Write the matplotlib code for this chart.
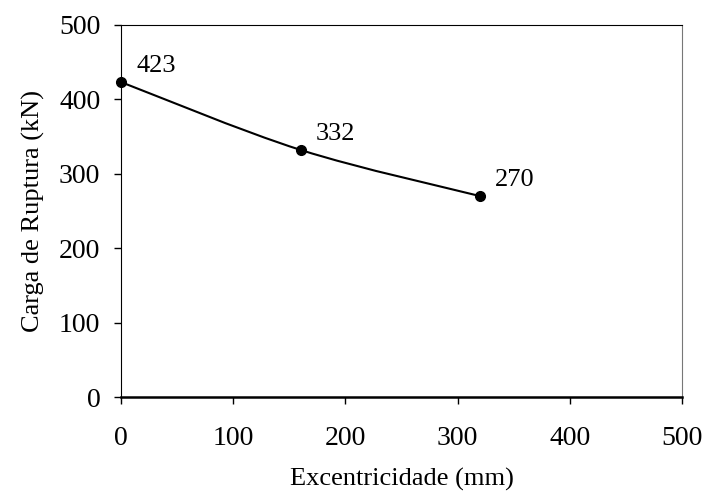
import numpy as np
import matplotlib.pyplot as plt
from matplotlib.path import Path
from matplotlib.patches import PathPatch

plt.rcParams['font.family'] = ['Liberation Serif', 'DejaVu Serif']

excentricidade = [0, 160, 320]
carga = [423, 332, 270]
rotulos = ['423', '332', '270']


def smooth_path(xs, ys):
    " Bezier path like the Excel smoothed line, built from the points. "
    pts = np.column_stack([xs, ys]).astype(float)
    n = len(pts)
    verts = [pts[0]]
    codes = [Path.MOVETO]
    for i in range(n - 1):
        p_prev = pts[max(i - 1, 0)]
        p_next2 = pts[min(i + 2, n - 1)]
        c1 = pts[i] + (pts[i + 1] - p_prev) / 6.0
        c2 = pts[i + 1] - (p_next2 - pts[i]) / 6.0
        verts += [c1, c2, pts[i + 1]]
        codes += [Path.CURVE4] * 3
    return Path(verts, codes)


fig = plt.figure(figsize=(7.05, 4.97), dpi=100)
ax = fig.add_axes([0.172, 0.201, 0.795, 0.749])

ax.add_patch(PathPatch(smooth_path(excentricidade, carga), fill=False,
                       edgecolor='black', lw=1.5, clip_on=False))
ax.plot(excentricidade, carga, 'o', color='black', ms=7, clip_on=False, zorder=3)

for x, y, t in zip(excentricidade, carga, rotulos):
    ax.annotate(t, (x, y), xytext=(11, 7), textcoords='offset points',
                fontsize=19, ha='left', va='baseline')

ax.set_xlim(0, 500)
ax.set_ylim(0, 500)
ax.set_xticks(range(0, 501, 100))
ax.set_yticks(range(0, 501, 100))
ax.tick_params(direction='out', length=5, width=1, labelsize=20, pad=16)
ax.tick_params(axis='y', pad=10)

for s in ['top', 'right', 'left']:
    ax.spines[s].set_linewidth(0.8)
ax.spines['right'].set_color('#777777')
ax.spines['bottom'].set_linewidth(1.8)

ax.set_xlabel('Excentricidade (mm)', fontsize=19, labelpad=12)
ax.set_ylabel('Carga de Ruptura (kN)', fontsize=19, labelpad=10)

fig.savefig('out.png', dpi=100)
